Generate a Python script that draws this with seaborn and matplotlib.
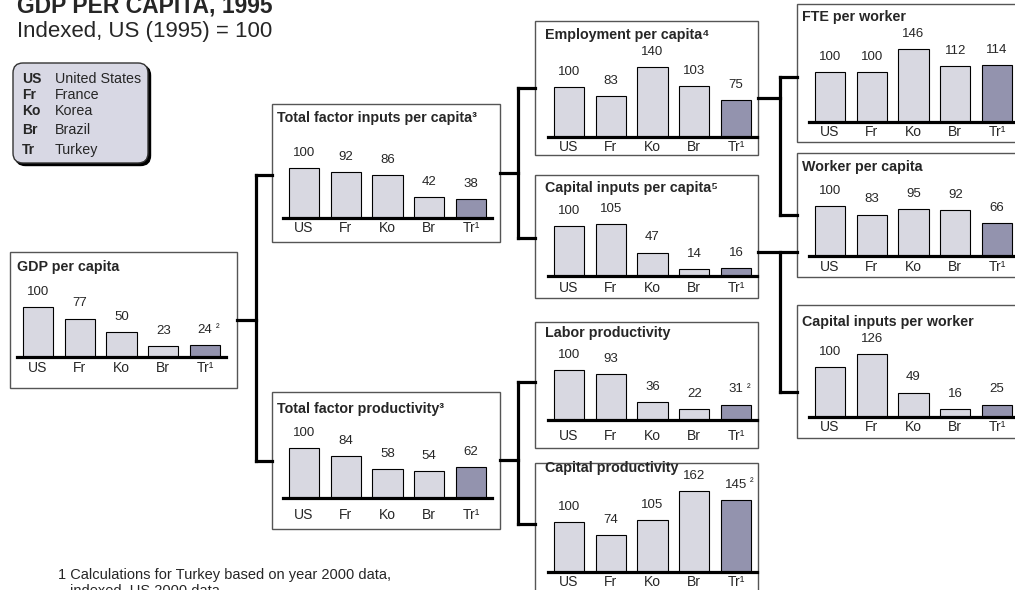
import numpy as np
import pandas as pd
import seaborn as sns
import matplotlib.pyplot as plt
from matplotlib.patches import Rectangle, FancyBboxPatch

sns.set_style('white')
plt.rcParams['font.family'] = ['Liberation Sans', 'DejaVu Sans']

# Data, indexed US (1995) = 100
categories = ['US', 'Fr', 'Ko', 'Br', 'Tr¹']
gdp_per_capita = [100, 77, 50, 23, 24]
factor_inputs = [100, 92, 86, 42, 38]
factor_productivity = [100, 84, 58, 54, 62]
employment = [100, 83, 140, 103, 75]
capital_inputs = [100, 105, 47, 14, 16]
labor_productivity = [100, 93, 36, 22, 31]
capital_productivity = [100, 74, 105, 162, 145]
fte_per_worker = [100, 100, 146, 112, 114]
worker_per_capita = [100, 83, 95, 92, 66]
capital_per_worker = [100, 126, 49, 16, 25]

legend_codes = ['US', 'Fr', 'Ko', 'Br', 'Tr']
legend_names = ['United States', 'France', 'Korea', 'Brazil', 'Turkey']

LIGHT = '#D6D6E2'
DARK = '#8E8EB2'
W, H = 1015, 590

fig = plt.figure(figsize=(W / 100, H / 100), dpi=100)
bg = fig.add_axes([0, 0, 1, 1])
bg.set_xlim(0, W)
bg.set_ylim(H, 0)
bg.axis('off')

# title block
bg.text(17, 13, 'GDP PER CAPITA, 1995', fontsize=16.5, fontweight='bold', va='baseline')
bg.text(17, 32, 'Indexed, US (1995) = 100', fontsize=16, va='center')

# legend box with shadow
bg.add_patch(FancyBboxPatch((15.5, 65.5), 135, 100, boxstyle='round,pad=0,rounding_size=10',
                            fc='black', ec='black', lw=1))
bg.add_patch(FancyBboxPatch((13, 63), 135, 100, boxstyle='round,pad=0,rounding_size=10',
                            fc='#D8D8E4', ec='#333333', lw=1))
for code, name, y in zip(legend_codes, legend_names, [79, 95, 111, 130, 150]):
    bg.text(22, y, code, fontsize=10, fontweight='bold', va='center')
    bg.text(55, y, name, fontsize=10.3, va='center')

# footnote
bg.text(58, 575, '1 Calculations for Turkey based on year 2000 data,', fontsize=10.5, va='center')
bg.text(70, 591, 'indexed, US 2000 data', fontsize=10.5, va='center')

# panels: title, values, box (x0, y0, x1, y1), US bar left, baseline, label offset, title x, title y, note
panels = [
    ('GDP per capita', gdp_per_capita, (10, 252, 237, 388), 23, 357, 11, 17, 267, ' ²'),
    ('Total factor inputs per capita³', factor_inputs, (272, 104, 500, 242), 289, 218, 10, 277, 118, ''),
    ('Total factor productivity³', factor_productivity, (272, 392, 500, 529), 289, 498, 17, 277, 409, ''),
    ('Employment per capita⁴', employment, (535, 21, 758, 155), 554, 137, 10, 545, 35, ''),
    ('Capital inputs per capita⁵', capital_inputs, (535, 175, 758, 298), 554, 276, 12, 545, 188, ''),
    ('Labor productivity', labor_productivity, (535, 322, 758, 448), 554, 420, 16, 545, 333, ' ²'),
    ('Capital productivity', capital_productivity, (535, 463, 758, 600), 554, 572, 10, 545, 468, '²'),
    ('FTE per worker', fte_per_worker, (797, 4, 1020, 142), 815, 122, 10, 802, 17, ''),
    ('Worker per capita', worker_per_capita, (797, 153, 1020, 277), 815, 256, 11, 802, 167, ''),
    ('Capital inputs per worker', capital_per_worker, (797, 305, 1020, 438), 815, 417, 10, 802, 322, ''),
]

sp = 41.75
for title, vals, box, x0, base, off, tx, ty, note in panels:
    bx0, by0, bx1, by1 = box
    bg.add_patch(Rectangle((bx0, by0), bx1 - bx0, by1 - by0, fc='white', ec='#555555', lw=1))
    bg.text(tx, ty, title, fontsize=10.3, fontweight='bold', va='center')

    left = x0 + 15 - sp / 2
    ax = fig.add_axes([left / W, (H - base) / H, 5 * sp / W, 100 / H])
    df = pd.DataFrame({'country': categories, 'value': vals})
    sns.barplot(data=df, x='country', y='value', hue='country',
                palette=[LIGHT] * 4 + [DARK], width=0.72, edgecolor='black',
                linewidth=0.8, legend=False, ax=ax)
    ax.set_xlim(-0.5, 4.5)
    ax.set_ylim(0, 200)
    ax.patch.set_visible(False)
    for s in ['top', 'left', 'right']:
        ax.spines[s].set_visible(False)
    ax.spines['bottom'].set_linewidth(2.3)
    ax.spines['bottom'].set_color('black')
    ax.set_xticks([])
    ax.set_yticks([])
    ax.set_xlabel('')
    ax.set_ylabel('')
    for i, v in enumerate(vals):
        ax.text(i, v + 30, str(v), ha='center', va='center', fontsize=9.5, clip_on=False)
        ax.text(i, -off * 2, categories[i], ha='center', va='center', fontsize=10, clip_on=False)
    if note:
        ax.text(4 + (0.25 if note.startswith(' ') else 0.33), vals[4] + 34, note.strip(),
                ha='left', va='center', fontsize=8, clip_on=False)

# connector lines
lines = [
    [(237, 320), (256, 320)], [(256, 175), (256, 461)], [(256, 175), (272, 175)], [(256, 461), (272, 461)],
    [(500, 173), (518, 173)], [(518, 88), (518, 238)], [(518, 88), (535, 88)], [(518, 238), (535, 238)],
    [(500, 460), (518, 460)], [(518, 382), (518, 524)], [(518, 382), (535, 382)], [(518, 524), (535, 524)],
    [(758, 98), (780, 98)], [(780, 77), (780, 215)], [(780, 77), (797, 77)], [(780, 215), (797, 215)],
    [(758, 252), (797, 252)], [(780, 252), (780, 392)], [(780, 392), (797, 392)],
]
for seg in lines:
    (xa, ya), (xb, yb) = seg
    bg.plot([xa, xb], [ya, yb], color='black', lw=2.3, solid_capstyle='projecting')

fig.savefig('out.png', dpi=100)
